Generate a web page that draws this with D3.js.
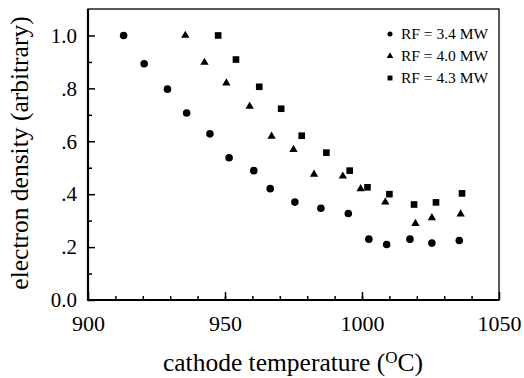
<!DOCTYPE html>
<html>
<head>
<meta charset="utf-8">
<script src="https://cdn.jsdelivr.net/npm/d3@7"></script>
<style>
  body { margin: 0; background: #fff; }
  svg text { font-family: "Liberation Serif", "DejaVu Serif", serif !important; fill: #000; }
</style>
</head>
<body>
<div id="chart"></div>
<script>
// data
var temps34 = [913, 920.5, 929, 936, 944.5, 951.5, 960.5, 966.5, 975.5, 985, 995, 1002.5, 1009, 1017.5, 1025.5, 1035.5];
var dens34 = [1.0, 0.893, 0.797, 0.707, 0.628, 0.538, 0.489, 0.421, 0.370, 0.347, 0.327, 0.230, 0.210, 0.230, 0.215, 0.225];

var temps40 = [935.5, 942.5, 950.5, 959, 967, 975, 982.5, 993, 999.5, 1008.5, 1019.5, 1025.5, 1036];
var dens40 = [1.0, 0.898, 0.82, 0.732, 0.619, 0.569, 0.475, 0.468, 0.42, 0.37, 0.289, 0.311, 0.325];

var temps43 = [947.5, 954, 962.5, 970.5, 978, 987, 995.5, 1002, 1010, 1019, 1027, 1036.5];
var dens43 = [1.0, 0.909, 0.806, 0.723, 0.621, 0.557, 0.489, 0.426, 0.400, 0.361, 0.369, 0.403];

var seriesNames = ["RF = 3.4 MW", "RF = 4.0 MW", "RF = 4.3 MW"];
var xTicks = [900, 950, 1000, 1050];
var yTicks = [0, 0.2, 0.4, 0.6, 0.8, 1.0];
var yTickLabels = ["0.0", ".2", ".4", ".6", ".8", "1.0"];

var svgWidth = 524;
var svgHeight = 378;
var margin = { top: 9, right: 25, bottom: 78, left: 88 };
var width = svgWidth - margin.left - margin.right;
var height = svgHeight - margin.top - margin.bottom;

var svg = d3.select("#chart")
  .append("svg")
  .attr("width", svgWidth)
  .attr("height", svgHeight)
  .attr("font-family", "Liberation Serif, DejaVu Serif, serif");

var chartGroup = svg.append("g")
  .attr("transform", `translate(${margin.left}, ${margin.top})`);

var x = d3.scaleLinear().domain([900, 1050]).range([0, width]);
var y = d3.scaleLinear().domain([0, 1.1]).range([height, 0]);

// minor ticks
chartGroup.append("g")
  .attr("transform", `translate(0, ${height})`)
  .call(d3.axisBottom(x).tickValues(d3.range(910, 1050, 10)).tickSize(-4).tickFormat(""))
  .call(g => g.select(".domain").remove());
chartGroup.append("g")
  .call(d3.axisLeft(y).tickValues([0.1, 0.3, 0.5, 0.7, 0.9]).tickSize(-4).tickFormat(""))
  .call(g => g.select(".domain").remove());

// major ticks + labels
var xAxis = chartGroup.append("g")
  .attr("transform", `translate(0, ${height})`)
  .call(d3.axisBottom(x).tickValues(xTicks).tickSizeInner(-8).tickSizeOuter(0).tickPadding(15)
    .tickFormat(d3.format("d")));
xAxis.select(".domain").remove();
xAxis.selectAll("text").attr("font-size", "22px").attr("dy", "0.71em");

var yAxis = chartGroup.append("g")
  .call(d3.axisLeft(y).tickValues(yTicks).tickSizeInner(-7).tickSizeOuter(0).tickPadding(11)
    .tickFormat((d, i) => yTickLabels[i]));
yAxis.select(".domain").remove();
yAxis.selectAll("text").attr("font-size", "21px");

chartGroup.selectAll("g").attr("font-family", null);
chartGroup.selectAll(".tick line").attr("stroke", "#000").attr("stroke-width", 1.5);

// frame
chartGroup.append("rect")
  .attr("width", width)
  .attr("height", height)
  .attr("fill", "none")
  .attr("stroke", "#000")
  .attr("stroke-width", 1.3);
chartGroup.append("path")
  .attr("d", `M0,0V${height}H${width}`)
  .attr("fill", "none")
  .attr("stroke", "#000")
  .attr("stroke-width", 2.2);

// points
var series = [
  { t: temps34, v: dens34, sym: d3.symbolCircle, size: 45, lsize: 20 },
  { t: temps40, v: dens40, sym: d3.symbolTriangle, size: 30, lsize: 19 },
  { t: temps43, v: dens43, sym: d3.symbolSquare, size: 44, lsize: 24 }
];

series.forEach(function(s) {
  chartGroup.selectAll(null)
    .data(s.t.map((t, i) => ({ t: t, v: s.v[i] })))
    .enter()
    .append("path")
    .attr("d", d3.symbol().type(s.sym).size(s.size))
    .attr("transform", d => `translate(${x(d.t)}, ${y(d.v)})`)
    .attr("fill", "#000");
});

// legend
var legend = chartGroup.append("g")
  .attr("transform", "translate(302, 25)");
series.forEach(function(s, i) {
  var row = legend.append("g").attr("transform", `translate(0, ${i * 22})`);
  row.append("path")
    .attr("d", d3.symbol().type(s.sym).size(s.lsize))
    .attr("fill", "#000");
  row.append("text")
    .attr("x", 11)
    .attr("y", 5)
    .attr("font-size", "15.5px")
    .text(seriesNames[i]);
});

// axis titles
chartGroup.append("text")
  .attr("transform", "rotate(-90)")
  .attr("x", -(153 - margin.top))
  .attr("y", 28 - margin.left)
  .attr("text-anchor", "middle")
  .attr("font-size", "25.5px")
  .text("electron density (arbitrary)");

var xt = chartGroup.append("text")
  .attr("x", 293 - margin.left)
  .attr("y", 371 - margin.top)
  .attr("text-anchor", "middle")
  .attr("font-size", "25.5px");
xt.append("tspan").text("cathode temperature (");
xt.append("tspan").attr("font-size", "17px").attr("dy", "-8").text("O");
xt.append("tspan").attr("dy", "8").text("C)");
</script>
</body>
</html>
